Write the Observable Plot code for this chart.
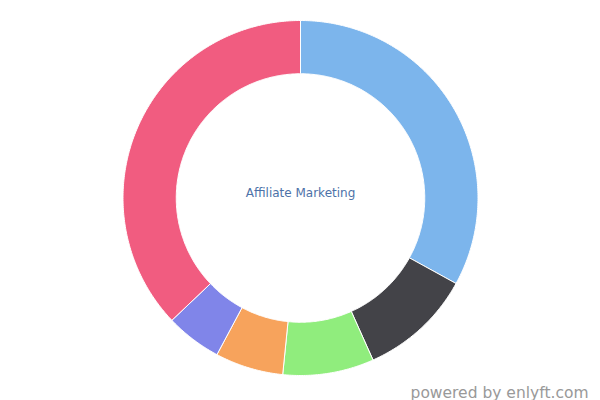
<!DOCTYPE html>
<html>
<head>
<meta charset="utf-8">
<script src="https://cdn.jsdelivr.net/npm/d3@7"></script>
<script src="https://cdn.jsdelivr.net/npm/@observablehq/plot@0.6"></script>
<style>
  html, body { margin: 0; padding: 0; background: #fff; }
  #chart { width: 600px; height: 400px; }
</style>
</head>
<body>
<div id="chart"></div>
<script>
// Data (share of each segment, clockwise from 12 o'clock)
const categories = ["Segment A", "Segment B", "Segment C", "Segment D", "Segment E", "Segment F"];
const values = [33.0, 10.3, 8.3, 6.2, 5.1, 37.1];
const colors = ["#7cb5ec", "#434348", "#90ed7d", "#f7a35c", "#8085e9", "#f15c80"];
const centerLabel = "Affiliate Marketing";
const credit = "powered by enlyft.com";

const W = 600, H = 400;
const Rpx = 177.5;          // outer radius in pixels
const innerRatio = 0.7;     // inner radius / outer radius
const cx = 300, cy = 197.5;

const pie = d3.pie().sort(null).value(d => d)(values);

// Build polygon outlines for each slice (in unit radius space)
const pts = [];
pie.forEach((p, i) => {
  const n = Math.max(8, Math.ceil((p.endAngle - p.startAngle) / 0.01));
  for (let k = 0; k <= n; k++) {
    const a = p.startAngle + (p.endAngle - p.startAngle) * k / n;
    pts.push({cat: categories[i], x: Math.sin(a), y: Math.cos(a)});
  }
  for (let k = n; k >= 0; k--) {
    const a = p.startAngle + (p.endAngle - p.startAngle) * k / n;
    pts.push({cat: categories[i], x: innerRatio * Math.sin(a), y: innerRatio * Math.cos(a)});
  }
  pts.push({cat: categories[i], x: Math.sin(p.startAngle), y: Math.cos(p.startAngle)});
});

const chart = Plot.plot({
  width: W,
  height: H,
  margin: 0,
  x: {domain: [-cx / Rpx, (W - cx) / Rpx], axis: null},
  y: {domain: [-(H - cy) / Rpx, cy / Rpx], axis: null},
  color: {domain: categories, range: colors},
  style: {background: "#fff", fontFamily: "DejaVu Sans, sans-serif"},
  marks: [
    Plot.line(pts, {x: "x", y: "y", z: "cat", fill: "cat", stroke: "#ffffff", strokeWidth: 1, curve: "linear"}),
    Plot.text([centerLabel], {x: 0, y: 4.5 / Rpx, text: d => d, fill: "#4d72a8", fontSize: 12, textAnchor: "middle"}),
    Plot.text([credit], {frameAnchor: "bottom-right", text: d => d, dx: -12, dy: -3, fill: "#999999", fontSize: 15.5, textAnchor: "end"})
  ]
});

document.getElementById("chart").appendChild(chart);
</script>
</body>
</html>
